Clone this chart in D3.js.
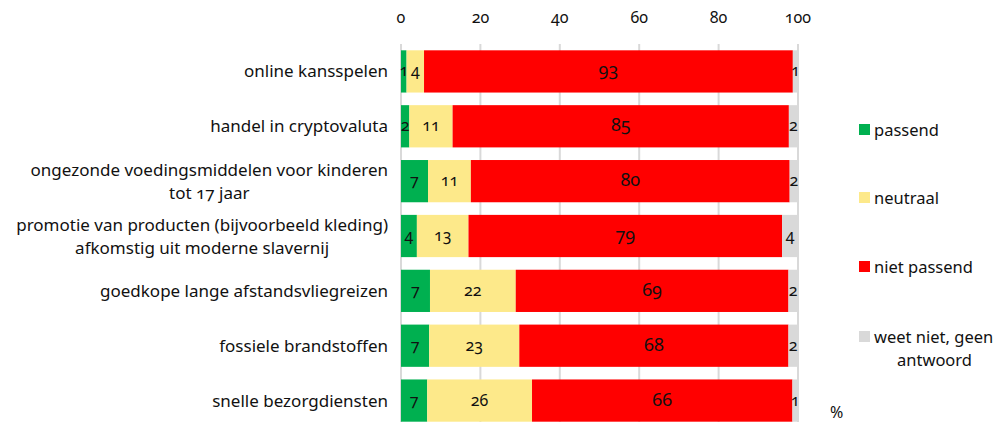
<!DOCTYPE html>
<html>
<head>
<meta charset="utf-8">
<script src="https://d3js.org/d3.v7.min.js"></script>
<style>
  body { margin: 0; background: #fff; }
  svg text { font-family: "Noto Sans", "Open Sans", sans-serif; fill: #111; font-variant-numeric: oldstyle-nums; }
</style>
</head>
<body>
<div id="chart"></div>
<script>
var categories = [
  ["online kansspelen"],
  ["handel in cryptovaluta"],
  ["ongezonde voedingsmiddelen voor kinderen", "tot 17 jaar"],
  ["promotie van producten (bijvoorbeeld kleding)", "afkomstig uit moderne slavernij"],
  ["goedkope lange afstandsvliegreizen"],
  ["fossiele brandstoffen"],
  ["snelle bezorgdiensten"]
];
var seriesNames = ["passend", "neutraal", "niet passend", "weet niet, geen antwoord"];
var passend     = [1.4, 2.1, 6.8, 4.0, 7.3, 7.1, 6.6];
var neutraal    = [4.4, 10.9, 10.8, 13.0, 21.6, 22.7, 26.4];
var nietPassend = [92.9, 84.7, 80.3, 79.0, 68.7, 67.8, 65.6];
var weetNiet    = [1.3, 2.3, 2.1, 4.0, 2.4, 2.4, 1.4];
var colors = ["#00b050", "#fde98a", "#ff0000", "#d9d9d9"];
var xTicks = [0, 20, 40, 60, 80, 100];

var width = 1002, height = 422;
var svg = d3.select("#chart").append("svg")
  .attr("width", width).attr("height", height);

var rows = categories.map(function(c, i) {
  return { key: i, s0: passend[i], s1: neutraal[i], s2: nietPassend[i], s3: weetNiet[i] };
});
var stacked = d3.stack().keys(["s0", "s1", "s2", "s3"])(rows);

var x = d3.scaleLinear().domain([0, 100]).range([401, 798]);
var y = d3.scaleBand().domain(d3.range(categories.length))
  .range([44, 428]).paddingInner(0.23).paddingOuter(0.115);

// gridlines
svg.append("g").selectAll("line").data(xTicks).enter().append("line")
  .attr("x1", function(d) { return x(d); }).attr("x2", function(d) { return x(d); })
  .attr("y1", 44).attr("y2", height)
  .attr("stroke", "#d9d9d9").attr("stroke-width", 2);

// top axis labels
svg.append("g").selectAll("text").data(xTicks).enter().append("text")
  .attr("x", function(d) { return x(d); }).attr("y", 23)
  .attr("text-anchor", "middle").style("font-size", "16px")
  .text(function(d) { return d; });

// bars
var layer = svg.append("g").selectAll("g").data(stacked).enter().append("g")
  .attr("fill", function(d, i) { return colors[i]; });
layer.selectAll("rect").data(function(d) { return d; }).enter().append("rect")
  .attr("x", function(d) { return x(d[0]); })
  .attr("width", function(d) { return x(d[1]) - x(d[0]); })
  .attr("y", function(d, i) { return y(i); })
  .attr("height", y.bandwidth());

// value labels
var fmt = d3.format(".0f");
layer.selectAll("text").data(function(d) { return d; }).enter().append("text")
  .attr("x", function(d) { return (x(d[0]) + x(d[1])) / 2; })
  .attr("y", function(d, i) { return y(i) + y.bandwidth() / 2 + 5; })
  .attr("text-anchor", "middle")
  .style("font-size", function(d) { return (d[1] - d[0]) > 50 ? "18px" : "16px"; })
  .text(function(d) { return fmt(d[1] - d[0]); });

// category labels
var catG = svg.append("g").selectAll("text").data(categories).enter().append("text")
  .attr("y", function(d, i) { return y(i) + y.bandwidth() / 2 + 6 - (d.length - 1) * 11.5; })
  .style("font-size", "17px");
catG.each(function(d) {
  var t = d3.select(this);
  if (d.length === 1) {
    t.attr("text-anchor", "end").append("tspan").attr("x", 388).text(d[0]);
    return;
  }
  var spans = d.map(function(line, j) {
    return t.append("tspan").attr("x", 0).attr("dy", j === 0 ? 0 : 23).text(line);
  });
  var w = d3.max(spans, function(s) { return s.node().getComputedTextLength(); });
  t.attr("text-anchor", "middle");
  spans.forEach(function(s) { s.attr("x", 388 - w / 2); });
});

// legend
var legendY = [130, 198, 267, 337];
var leg = svg.append("g").selectAll("g").data(seriesNames).enter().append("g")
  .attr("transform", function(d, i) { return "translate(859," + legendY[i] + ")"; });
leg.append("rect").attr("x", 0).attr("y", -6).attr("width", 11).attr("height", 11)
  .attr("fill", function(d, i) { return colors[i]; });
leg.append("text").attr("x", 15).attr("y", 6).style("font-size", "16.5px")
  .each(function(d) {
    var parts = d.split(", ");
    var t = d3.select(this);
    if (parts.length > 1) {
      t.append("tspan").attr("x", 15).text(parts[0] + ", " + parts[1].split(" ")[0]);
      t.append("tspan").attr("x", 38).attr("dy", 23).text(parts[1].split(" ")[1]);
    } else {
      t.text(d);
    }
  });

svg.append("text").attr("x", 830).attr("y", 418).style("font-size", "16px").text("%");
</script>
</body>
</html>
